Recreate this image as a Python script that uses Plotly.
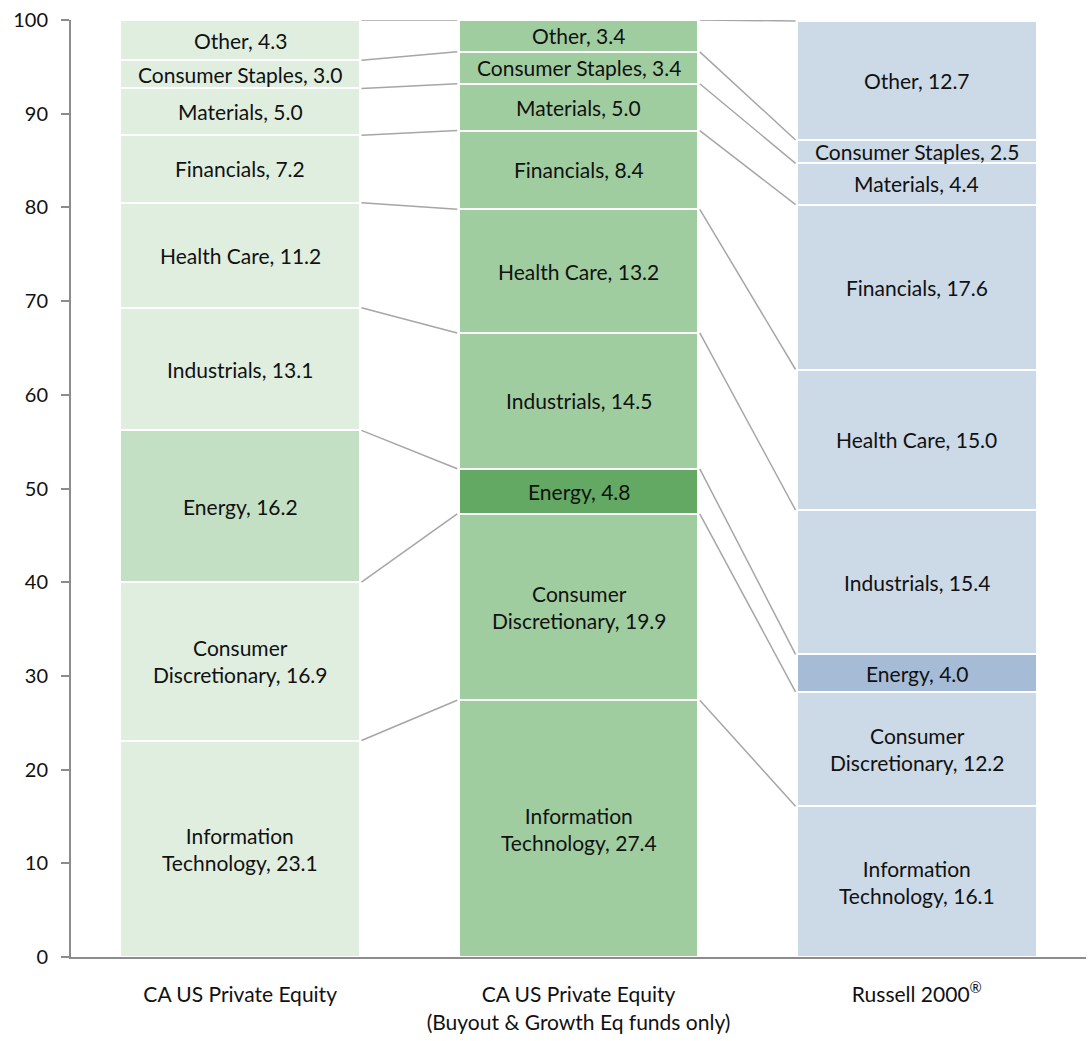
import plotly.graph_objects as go

categories = ["CA US Private Equity",
              "CA US Private Equity<br>(Buyout & Growth Eq funds only)",
              "Russell 2000<sup>®</sup>"]
sectors = ["Information Technology", "Consumer Discretionary", "Energy", "Industrials",
           "Health Care", "Financials", "Materials", "Consumer Staples", "Other"]
labels = ["Information<br>Technology", "Consumer<br>Discretionary", "Energy", "Industrials",
          "Health Care", "Financials", "Materials", "Consumer Staples", "Other"]
pe_all = [23.1, 16.9, 16.2, 13.1, 11.2, 7.2, 5.0, 3.0, 4.3]
pe_buyout = [27.4, 19.9, 4.8, 14.5, 13.2, 8.4, 5.0, 3.4, 3.4]
russell = [16.1, 12.2, 4.0, 15.4, 15.0, 17.6, 4.4, 2.5, 12.7]
series = [pe_all, pe_buyout, russell]

base_colors = ["#e0eee0", "#a0cda0", "#ccd9e7"]
energy_colors = ["#c4e0c4", "#63a963", "#a6bbd6"]

BAR_W = 0.709
FONT = "Lato, 'Source Sans Pro', 'Open Sans', sans-serif"

fig = go.Figure()
xs = [0, 1, 2]
for si, sec in enumerate(sectors):
    ys = [s[si] for s in series]
    cols = [energy_colors[i] if sec == "Energy" else base_colors[i] for i in range(3)]
    fig.add_trace(go.Bar(x=xs, y=ys, name=sec, width=BAR_W,
                         marker=dict(color=cols, line=dict(color="white", width=2)),
                         hoverinfo="y+name", showlegend=False))

cums = []
for s in series:
    c, acc = [], 0.0
    for v in s:
        acc += v
        c.append(acc)
    cums.append(c)

# labels
for i, s in enumerate(series):
    acc = 0.0
    for si, v in enumerate(s):
        fig.add_annotation(x=i, y=acc + v / 2, text=f"{labels[si]}, {v:.1f}",
                           showarrow=False, font=dict(size=21, color="#111111", family=FONT),
                           xref="x", yref="y")
        acc += v

# connectors
for i in range(2):
    for si in range(len(sectors)):
        fig.add_shape(type="line", xref="x", yref="y",
                      x0=i + BAR_W / 2 + 0.004, x1=i + 1 - BAR_W / 2 - 0.004,
                      y0=cums[i][si], y1=cums[i + 1][si],
                      line=dict(color="#a6a6a6", width=1.5))

fig.update_layout(
    width=1089, height=1041,
    margin=dict(l=71, r=3, t=20, b=84),
    plot_bgcolor="white", paper_bgcolor="white",
    barmode="stack", bargap=0.29,
    font=dict(family=FONT, size=21, color="#111111"),
    xaxis=dict(tickmode="array", tickvals=xs, ticktext=categories, range=[-0.5, 2.5],
               showline=True, linecolor="#8c8c8c", linewidth=2, ticks="",
               showgrid=False, zeroline=False, ticklabelstandoff=18,
               tickfont=dict(size=21)),
    yaxis=dict(range=[0, 100], dtick=10, showline=True, linecolor="#8c8c8c", linewidth=2,
               ticks="outside", ticklen=8, tickcolor="#8c8c8c", tickwidth=2,
               showgrid=False, zeroline=False, ticklabelstandoff=9,
               tickfont=dict(size=20)),
)

fig.write_html("out.html")
